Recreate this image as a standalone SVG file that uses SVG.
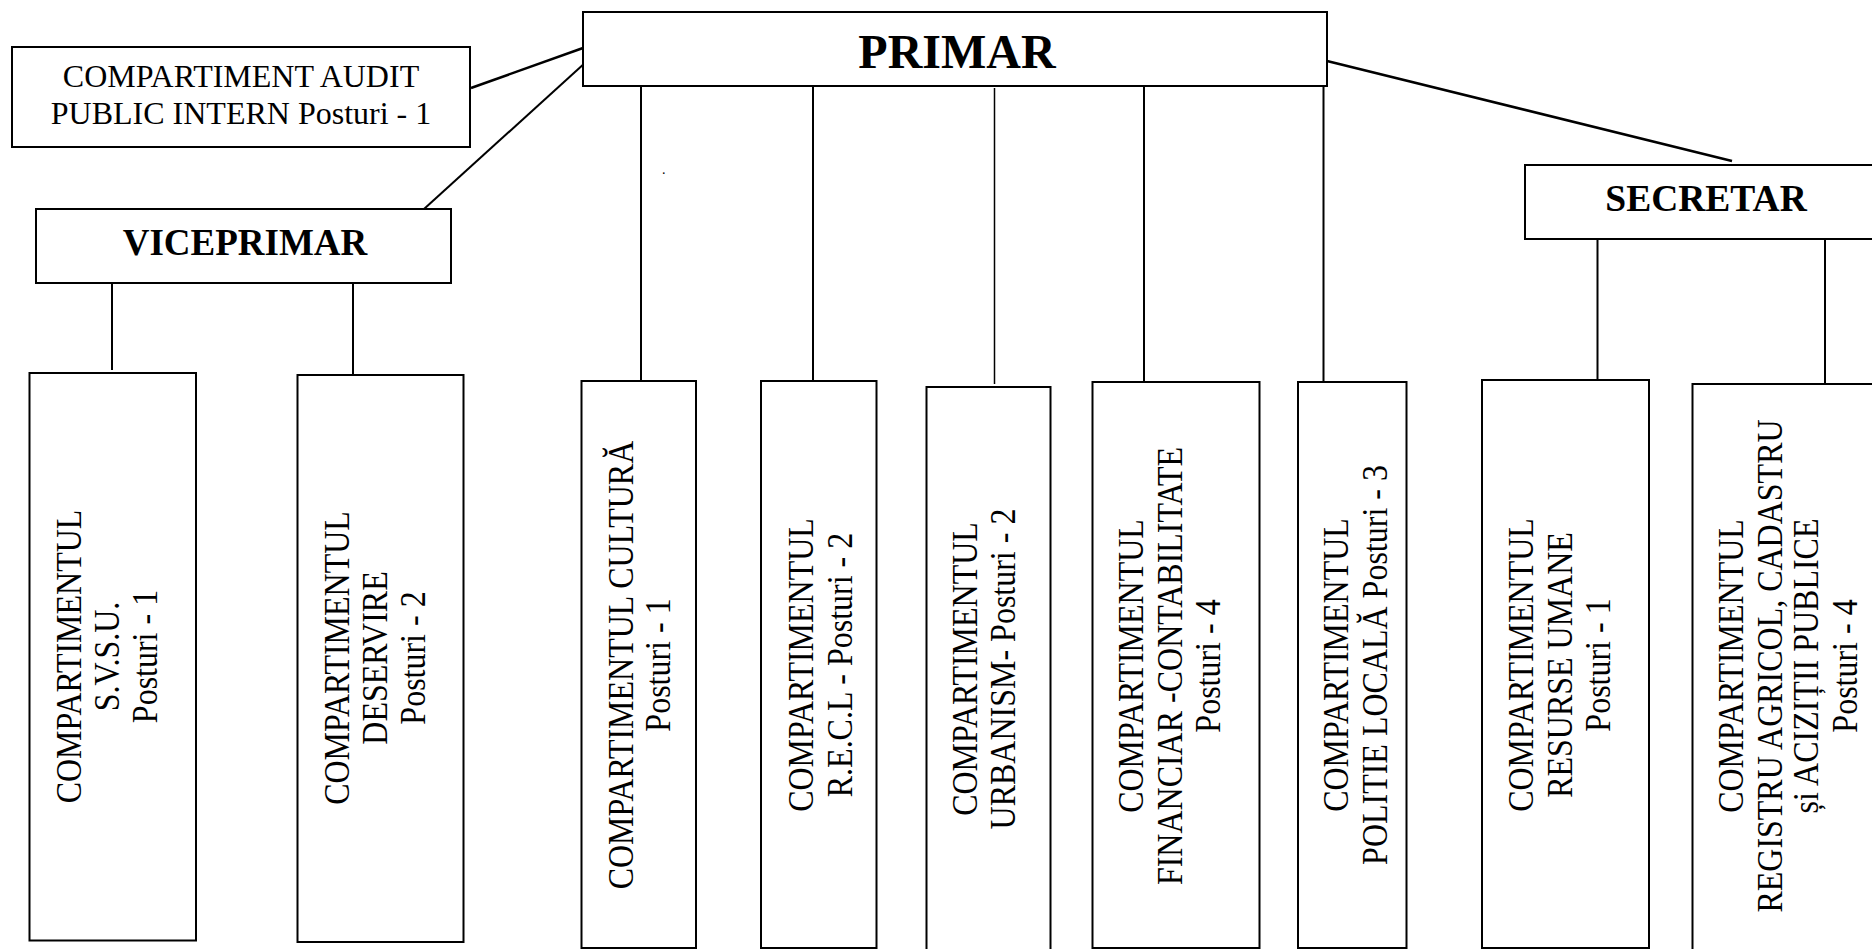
<svg xmlns="http://www.w3.org/2000/svg" width="1872" height="949" viewBox="0 0 1872 949">
<style>
.box{fill:#fff;stroke:#000;stroke-width:2}
.ln{stroke:#000;stroke-width:2;fill:none}
.t{font-family:"Liberation Serif","Times New Roman",serif;font-size:32px;fill:#000;text-anchor:middle}
.b{font-family:"Liberation Serif","Times New Roman",serif;font-weight:bold;fill:#000;text-anchor:middle}
</style>
<rect width="1872" height="949" fill="#fff"/>
<g id="connectors">
<line class="ln" x1="471" y1="88" x2="583" y2="48" style="stroke-width:2.5"/>
<line class="ln" x1="424" y1="209" x2="586" y2="62"/>
<line class="ln" x1="1327" y1="61" x2="1732" y2="161" style="stroke-width:2.5"/>
<line class="ln" x1="112" y1="281" x2="112" y2="370"/>
<line class="ln" x1="353" y1="283" x2="353" y2="374"/>
<line class="ln" x1="641" y1="86" x2="641" y2="381"/>
<line class="ln" x1="813" y1="86" x2="813" y2="381"/>
<line class="ln" x1="994.5" y1="88" x2="994.5" y2="384" style="stroke-width:1.5"/>
<line class="ln" x1="1144" y1="86" x2="1144" y2="382"/>
<line class="ln" x1="1323.5" y1="86" x2="1323.5" y2="382"/>
<line class="ln" x1="1597.5" y1="239" x2="1597.5" y2="380"/>
<line class="ln" x1="1825" y1="236" x2="1825" y2="387"/>
</g>
<g id="primar">
<rect class="box" x="583" y="12" width="744" height="74"/>
<text class="b" x="957" y="68" font-size="48">PRIMAR</text>
</g>
<g id="audit">
<rect class="box" x="12" y="47" width="458" height="100"/>
<text class="t" x="241" y="87">COMPARTIMENT AUDIT</text>
<text class="t" x="241" y="124">PUBLIC INTERN Posturi - 1</text>
</g>
<g id="viceprimar">
<rect class="box" x="36" y="209" width="415" height="74"/>
<text class="b" x="245" y="255" font-size="37">VICEPRIMAR</text>
</g>
<g id="secretar">
<rect class="box" x="1525" y="165" width="360" height="74"/>
<text class="b" x="1706" y="211" font-size="37.5">SECRETAR</text>
</g>
<text x="662" y="174" font-family="Liberation Serif, serif" font-size="14">.</text>
<g id="svsu">
<rect class="box" x="29.5" y="373" width="166.5" height="567.5"/>
<text class="t" transform="translate(81,656.5) rotate(-90) scale(1,1.1)"><tspan x="0" y="0">COMPARTIMENTUL</tspan><tspan x="0" y="34.5">S.V.S.U.</tspan><tspan x="0" y="69.1">Posturi - 1</tspan></text>
</g>
<g id="deservire">
<rect class="box" x="297.5" y="375" width="166" height="567"/>
<text class="t" transform="translate(349,658) rotate(-90) scale(1,1.1)"><tspan x="0" y="0">COMPARTIMENTUL</tspan><tspan x="0" y="34.5">DESERVIRE</tspan><tspan x="0" y="69.1">Posturi - 2</tspan></text>
</g>
<g id="cultura">
<rect class="box" x="581.5" y="381" width="114.5" height="567"/>
<text class="t" transform="translate(632.5,665) rotate(-90) scale(1,1.1)"><tspan x="0" y="0">COMPARTIMENTUL CULTURĂ</tspan><tspan x="0" y="34.5">Posturi - 1</tspan></text>
</g>
<g id="recl">
<rect class="box" x="761" y="381" width="115.5" height="567"/>
<text class="t" transform="translate(813,665) rotate(-90) scale(1,1.1)"><tspan x="0" y="0">COMPARTIMENTUL</tspan><tspan x="0" y="35.2">R.E.C.L - Posturi - 2</tspan></text>
</g>
<g id="urbanism">
<rect class="box" x="926.5" y="387" width="124" height="580"/>
<text class="t" transform="translate(977,669) rotate(-90) scale(1,1.1)"><tspan x="0" y="0">COMPARTIMENTUL</tspan><tspan x="0" y="34.7">URBANISM- Posturi - 2</tspan></text>
</g>
<g id="financiar">
<rect class="box" x="1092.5" y="382" width="167" height="566"/>
<text class="t" transform="translate(1143,666) rotate(-90) scale(1,1.1)"><tspan x="0" y="0">COMPARTIMENTUL</tspan><tspan x="0" y="35.2">FINANCIAR -CONTABILITATE</tspan><tspan x="0" y="70">Posturi - 4</tspan></text>
</g>
<g id="politie">
<rect class="box" x="1298" y="382" width="108.5" height="566"/>
<text class="t" transform="translate(1348,665) rotate(-90) scale(1,1.1)"><tspan x="0" y="0">COMPARTIMENTUL</tspan><tspan x="0" y="35.2">POLITIE LOCALĂ Posturi - 3</tspan></text>
</g>
<g id="resurse">
<rect class="box" x="1482" y="380" width="167" height="568"/>
<text class="t" transform="translate(1533,665) rotate(-90) scale(1,1.1)"><tspan x="0" y="0">COMPARTIMENTUL</tspan><tspan x="0" y="35.2">RESURSE UMANE</tspan><tspan x="0" y="70">Posturi - 1</tspan></text>
</g>
<g id="registru">
<rect class="box" x="1692.5" y="384" width="200" height="580"/>
<text class="t" transform="translate(1743,666) rotate(-90) scale(1,1.1)"><tspan x="0" y="0">COMPARTIMENTUL</tspan><tspan x="0" y="35.2">REGISTRU AGRICOL, CADASTRU</tspan><tspan x="0" y="68.5">și ACIZIȚII PUBLICE</tspan><tspan x="0" y="103.6">Posturi - 4</tspan></text>
</g>
</svg>
